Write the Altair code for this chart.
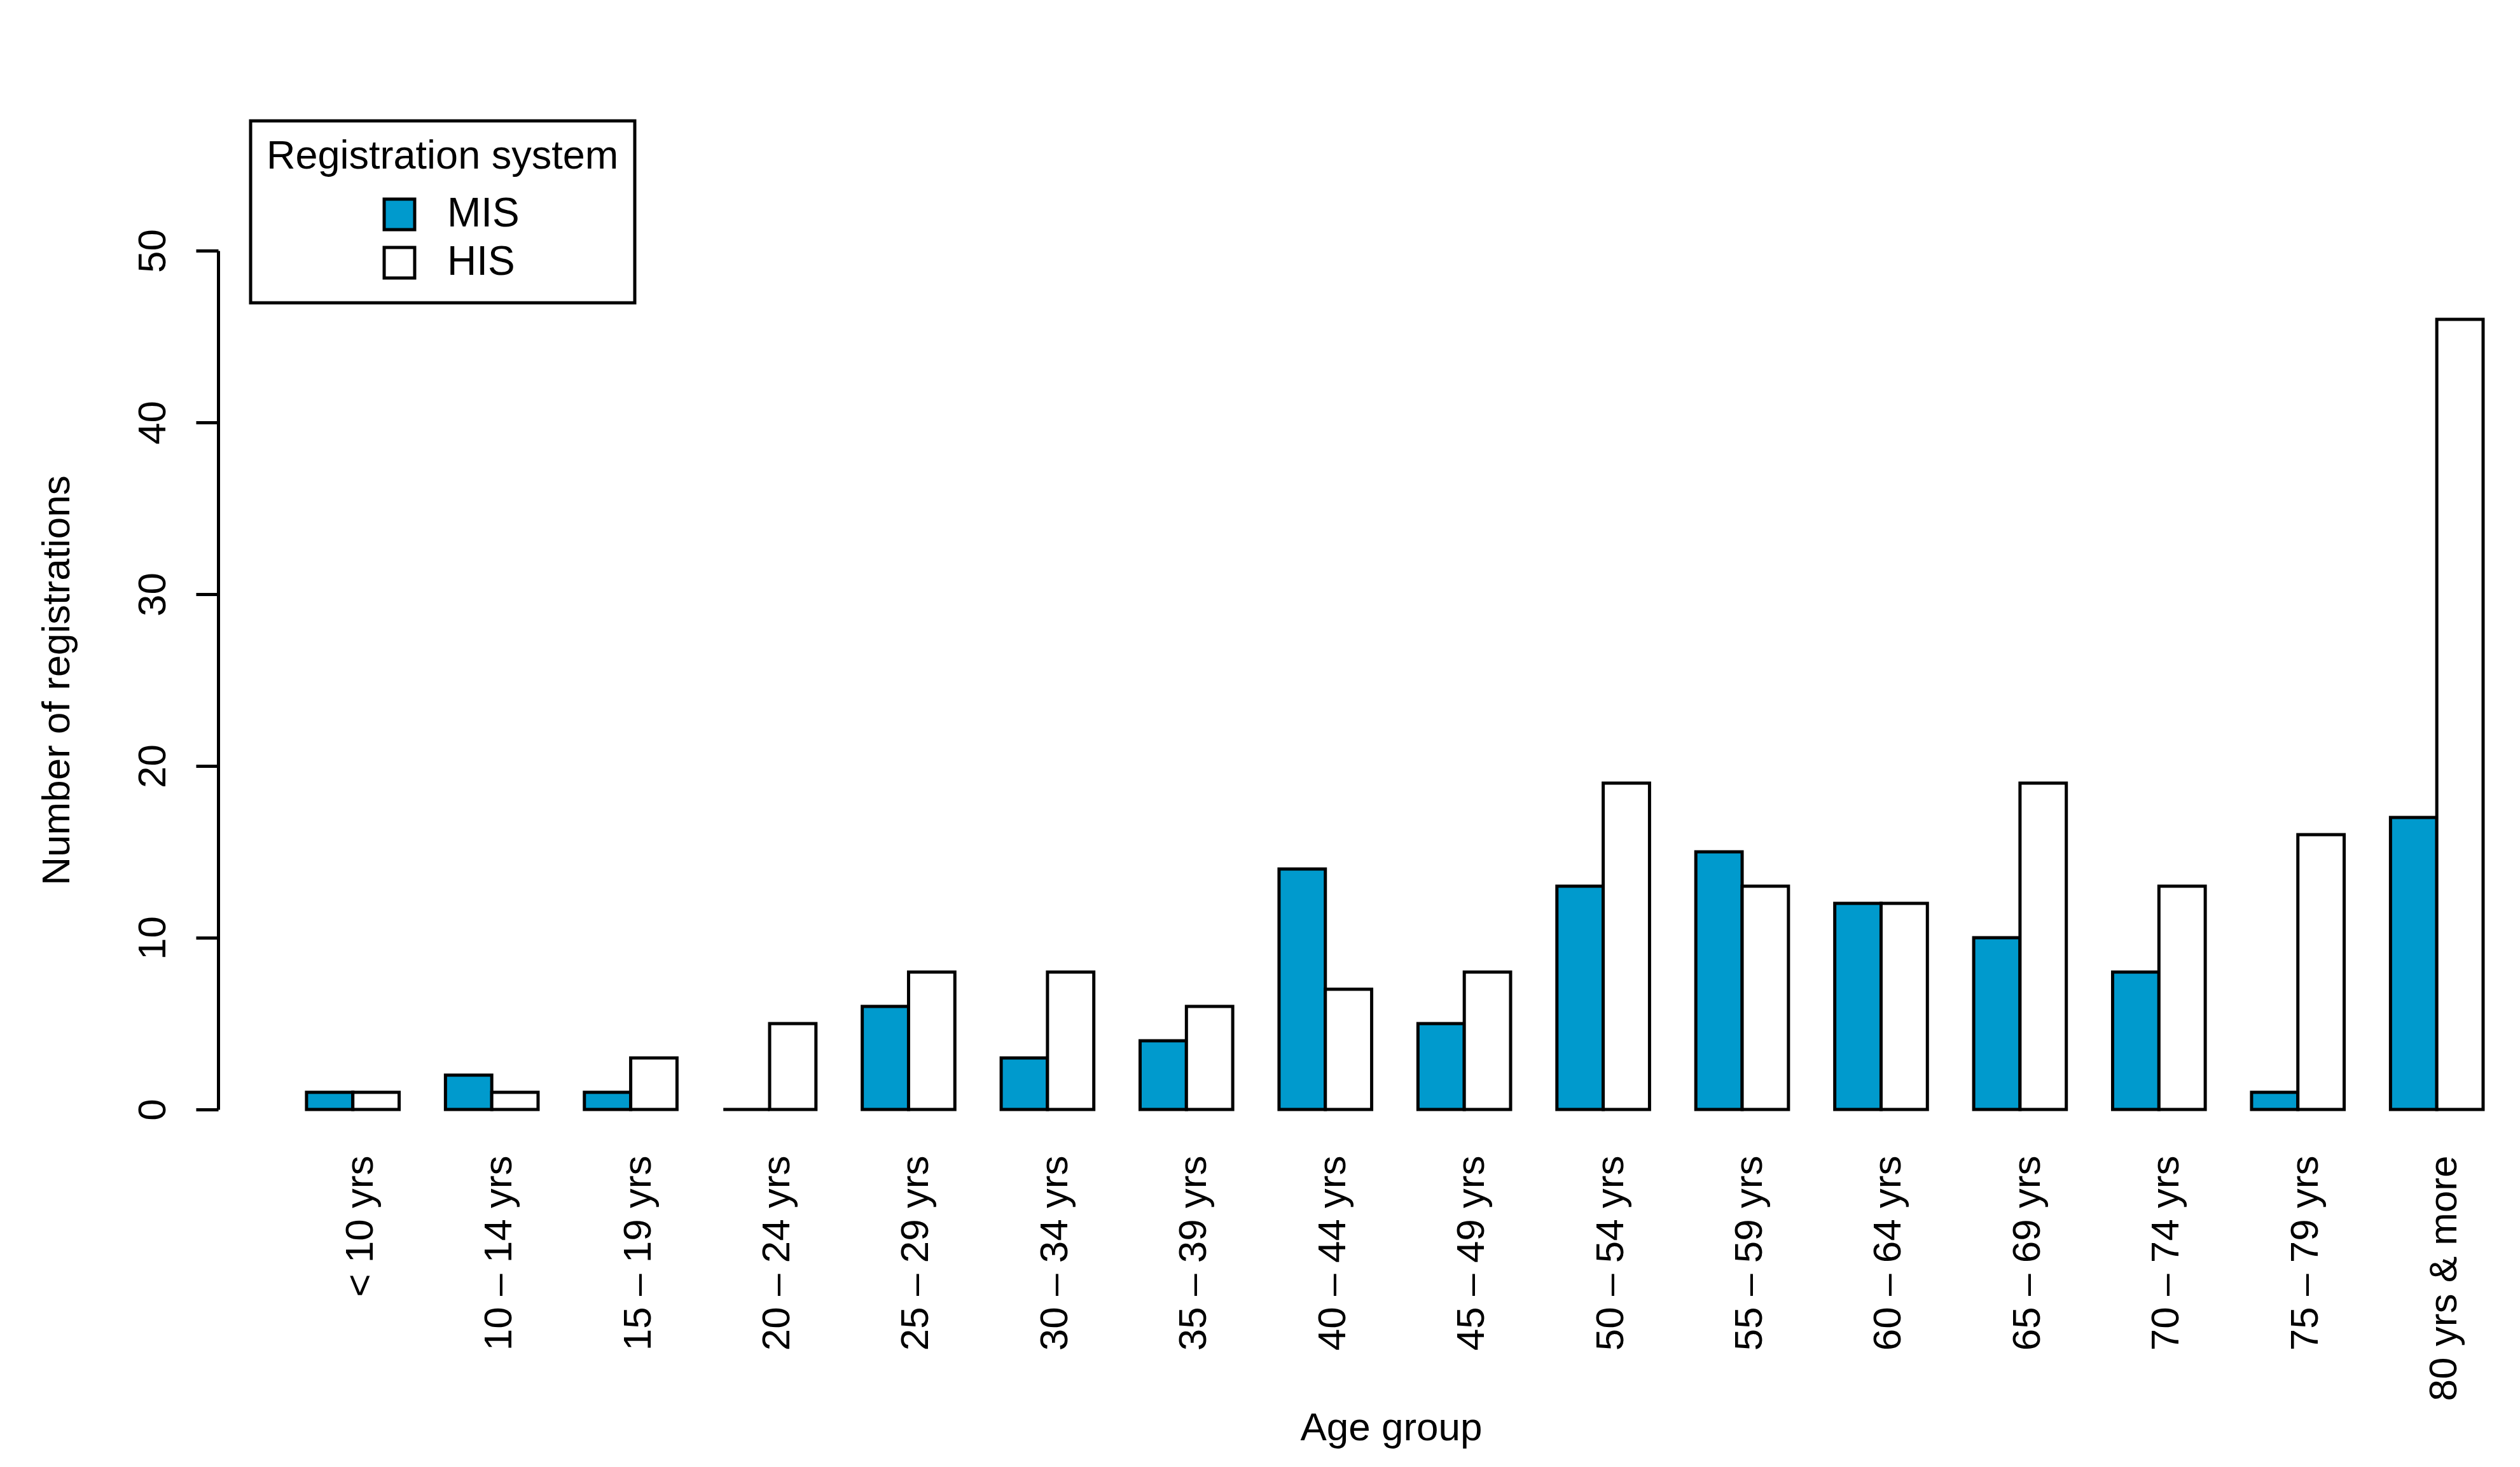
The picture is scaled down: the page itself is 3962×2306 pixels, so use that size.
import altair as alt
import pandas as pd

age_groups = ["< 10 yrs", "10 – 14 yrs", "15 – 19 yrs", "20 – 24 yrs", "25 – 29 yrs",
              "30 – 34 yrs", "35 – 39 yrs", "40 – 44 yrs", "45 – 49 yrs", "50 – 54 yrs",
              "55 – 59 yrs", "60 – 64 yrs", "65 – 69 yrs", "70 – 74 yrs", "75 – 79 yrs",
              "80 yrs & more"]
mis = [1, 2, 1, 0, 6, 3, 4, 14, 5, 13, 15, 12, 10, 8, 1, 17]
his = [1, 1, 3, 5, 8, 8, 6, 7, 8, 19, 13, 12, 19, 13, 16, 46]
systems = ["MIS", "HIS"]
colors = ["#009ACD", "#FFFFFF"]
y_ticks = [0, 10, 20, 30, 40, 50]

rows = []
for g, m, h in zip(age_groups, mis, his):
    rows.append({"age": g, "system": "MIS", "count": m})
    rows.append({"age": g, "system": "HIS", "count": h})
df = pd.DataFrame(rows)

FONT = "Liberation Sans"
FS = 62
LFS = 63

chart = alt.Chart(df).mark_bar(stroke="black", strokeWidth=5).encode(
    x=alt.X("age:N", sort=age_groups,
            scale=alt.Scale(paddingInner=1 / 3, paddingOuter=0.318, align=1),
            axis=alt.Axis(title="Age group", labelAngle=-90, domain=False, ticks=False,
                          labelPadding=72, labelOffset=12, labelFontSize=FS, labelFont=FONT,
                          labelColor="black", labelLimit=2000, labelOverlap=False,
                          titleFontSize=FS, titleFont=FONT, titleFontWeight="normal",
                          titleColor="black", titleX=1844, titleY=500, titleBaseline="middle")),
    xOffset=alt.XOffset("system:N", sort=systems,
                        scale=alt.Scale(domain=systems, paddingInner=0, paddingOuter=0)),
    y=alt.Y("count:Q", scale=alt.Scale(domain=[0, 50], nice=False),
            axis=alt.Axis(title="Number of registrations", values=y_ticks, grid=False,
                          tickSize=35, tickWidth=5, tickColor="black",
                          domainWidth=5, domainColor="black",
                          labelAngle=-90, labelAlign="center", labelBaseline="middle",
                          labelPadding=68, labelFontSize=FS, labelFont=FONT,
                          labelColor="black", labelOverlap=False,
                          titleFontSize=FS, titleFont=FONT, titleFontWeight="normal",
                          titleColor="black", titleX=-254, titleBaseline="middle")),
    fill=alt.Fill("system:N", sort=systems,
                  scale=alt.Scale(domain=systems, range=colors),
                  legend=alt.Legend(title="Registration system", orient="none",
                                    legendX=51, legendY=-204,
                                    strokeColor="black", fillColor="white", padding=25,
                                    titleFontSize=LFS, titleFont=FONT, titleFontWeight="normal",
                                    titleColor="black", titleLimit=2000, titlePadding=21,
                                    labelFontSize=64, labelFont=FONT, labelColor="black",
                                    labelLimit=2000, clipHeight=76, rowPadding=0,
                                    symbolType="square", symbolSize=2300,
                                    symbolStrokeColor="black", symbolStrokeWidth=5,
                                    symbolOffset=177, labelOffset=43)),
).properties(
    width=3561, height=1350,
    autosize=alt.AutoSizeParams(type="none"),
    padding={"left": 335, "top": 386, "right": 30, "bottom": 545},
    background="white",
).configure_view(stroke=None).configure_legend(strokeWidth=5)

chart.save("out.html", embed_options={"renderer": "svg", "actions": False})
